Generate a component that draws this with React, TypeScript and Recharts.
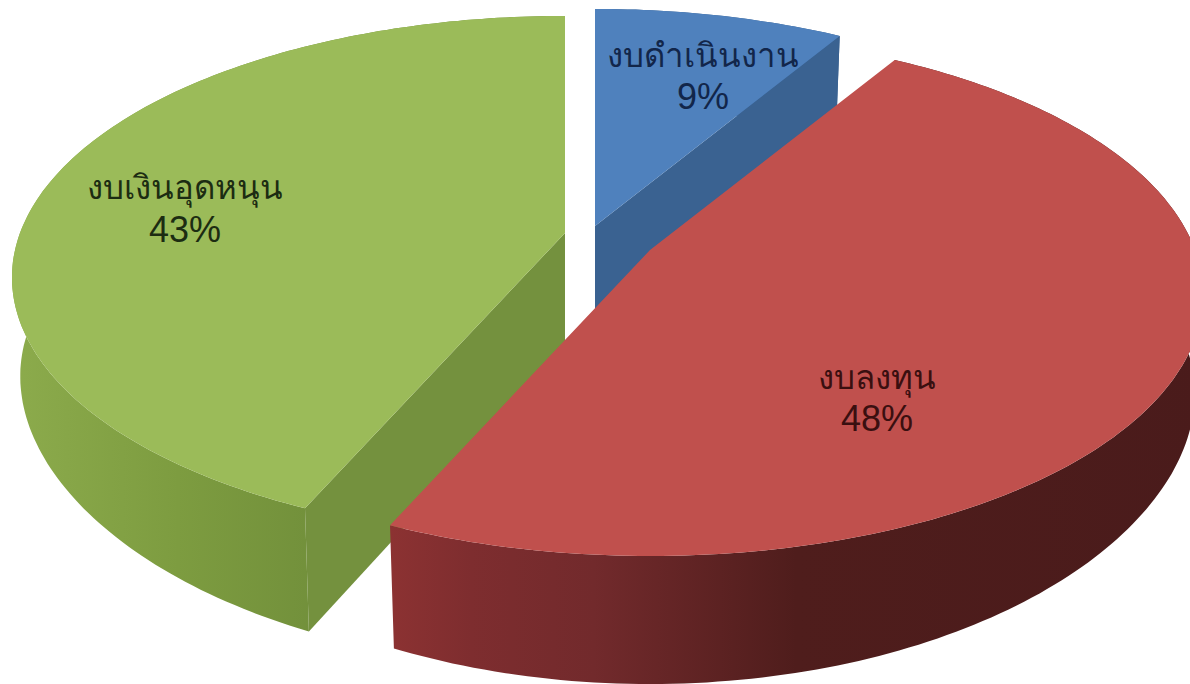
import React from 'react';
import { PieChart, Pie } from 'recharts';

const WIDTH = 1190;
const HEIGHT = 684;

// listed green, blue, red so that red is painted last and covers the other two
const names = ['งบเงินอุดหนุน', 'งบดำเนินงาน', 'งบลงทุน'];
const percentLabels = ['43%', '9%', '48%'];
// measured from the slice edges, the printed labels are rounded
const shares = [43.4, 8.6, 48];
const topColors = ['#9bbb59', '#4f81bd', '#c0504d'];
const wallColors = ['#74913e', '#3a6291', '#8e3a38'];
const labelColors = ['#1c2c12', '#12264a', '#3a0f10'];
const sideStops = [
  [[0, '#8cab4c'], [0.3, '#7d9c40'], [0.55, '#72903b'], [1, '#72903b']],
  [[0, '#3a6291'], [1, '#3a6291']],
  [[0, '#8c3232'], [0.1, '#7e2d2f'], [0.25, '#722a2c'], [0.5, '#4f1d1c'], [1, '#4a1b1b']],
];
const apexes = [
  [565, 233],
  [595, 226],
  [650, 250],
];
const labelSpots = [
  [185, 199, 242],
  [703, 67, 109],
  [877, 389, 431],
];

// the green slice starts where red ends, measured clockwise from the top
const firstAngle = 90 - ((shares[1] + shares[2]) / 100) * 360;

// fake 3D tilt, the perspective squashes the back of the pie more than the front
const RX = 545;
const RY = 254;
const TILT = 0.17;
const CENTRE_DROP = 120;

const project = (apex: number[], deg: number) => {
  const t = (deg * Math.PI) / 180;
  const sx = Math.sin(t);
  const sy = Math.cos(t);
  const w = 1 + TILT * sy;
  return { x: apex[0] + (RX * sx) / w, y: apex[1] - (RY * sy) / w, sy };
};

const dropBy = (sy: number) => (sy < 0 ? 98 + 30 * sy * sy : 98);

const floor = (p: { x: number; y: number; sy: number }, apex: number[]) => ({
  x: apex[0] + (p.x - apex[0]) * 0.985,
  y: p.y + dropBy(p.sy),
});

const toPath = (pts: { x: number; y: number }[]) =>
  pts.map((p, i) => `${i === 0 ? 'M' : 'L'}${p.x.toFixed(1)} ${p.y.toFixed(1)}`).join(' ') + ' Z';

const Slice3D = (props: any) => {
  const { startAngle, endAngle, index } = props;
  const apex = apexes[index];
  const from = 90 - startAngle;
  const to = 90 - endAngle;
  const arc = [];
  for (let d = from; d <= to; d += 1) arc.push(project(apex, d));
  arc.push(project(apex, to));

  const centre = { x: apex[0], y: apex[1] };
  const centreLow = { x: apex[0], y: apex[1] + CENTRE_DROP };
  const first = arc[0];
  const last = arc[arc.length - 1];
  // a cut face only shows when it turns towards the viewer
  const showStart = Math.cos(((from - 90) * Math.PI) / 180) < -0.01;
  const showEnd = Math.cos(((to + 90) * Math.PI) / 180) < -0.01;
  const spot = labelSpots[index];
  const gradId = `side-${index}`;

  return (
    <g>
      <defs>
        <linearGradient id={gradId} x1="0" y1="0" x2="1" y2="0">
          {sideStops[index].map((s, i) => (
            <stop key={i} offset={s[0]} stopColor={s[1] as string} />
          ))}
        </linearGradient>
      </defs>
      <path
        d={toPath([...arc, ...arc.map((p) => floor(p, apex)).reverse()])}
        fill={`url(#${gradId})`}
      />
      {showStart && <path d={toPath([centre, first, floor(first, apex), centreLow])} fill={wallColors[index]} />}
      {showEnd && <path d={toPath([centre, last, floor(last, apex), centreLow])} fill={wallColors[index]} />}
      <path d={toPath([centre, ...arc])} fill={topColors[index]} />
      <text textAnchor="middle" fontFamily="Tahoma, 'Noto Sans', 'Liberation Sans', sans-serif" fontSize={33} fill={labelColors[index]}>
        <tspan x={spot[0]} y={spot[1]}>{names[index]}</tspan>
        <tspan x={spot[0]} y={spot[2]} fontSize={36} fontFamily="'Liberation Sans', sans-serif">{percentLabels[index]}</tspan>
      </text>
    </g>
  );
};

const tableData = names.map((name, i) => ({ name, value: shares[i] }));

export default function App() {
  return (
    <div style={{ position: 'absolute', left: 0, top: 0, width: WIDTH, height: HEIGHT }}>
      <PieChart width={WIDTH} height={HEIGHT} margin={{ top: 0, right: 0, bottom: 0, left: 0 }}>
        <Pie
          data={tableData}
          dataKey="value"
          nameKey="name"
          startAngle={firstAngle}
          endAngle={firstAngle - 360}
          stroke="none"
          shape={Slice3D}
          isAnimationActive={false}
        />
      </PieChart>
    </div>
  );
}
